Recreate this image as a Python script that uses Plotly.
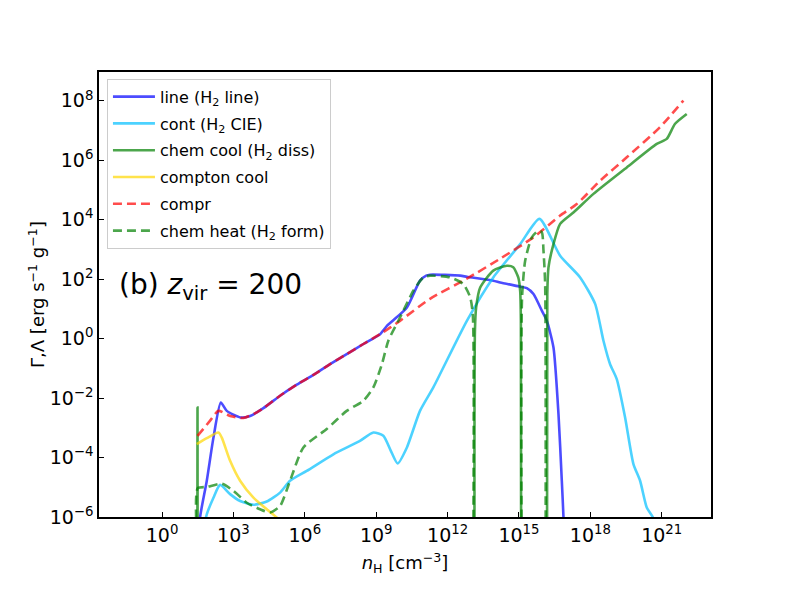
import numpy as np
import plotly.graph_objects as go

# values, as log10(n_H) and log10(rate); None = rate is not positive there
line_x = [1.59, 1.60, 1.88, 2.16, 2.47, 2.72, 3.29, 3.70, 4.26, 4.96, 5.66, 6.36, 7.06, 7.76, 8.46, 9.16, 9.45, 9.72,
          10.29, 10.84, 11.10, 11.26, 12.53, 12.81, 13.92, 14.21, 15.04, 15.33, 15.61, 15.96, 16.17, 16.45, 16.66,
          16.80, 16.87, 16.89]
line_y = [-6.5, -6.0, -4.78, -3.33, -2.15, -2.43, -2.65, -2.60, -2.34, -1.92, -1.55, -1.22, -0.86, -0.52, -0.18, 0.15,
          0.43, 0.62, 1.05, 1.95, 2.12, 2.15, 2.12, 2.08, 1.95, 1.89, 1.75, 1.70, 1.50, 0.94, 0.60, -0.30, -2.54,
          -4.78, -6.0, -6.6]

cont_x = [1.83, 1.85, 2.16, 2.44, 2.86, 3.28, 3.84, 4.40, 4.96, 5.38, 6.08, 7.20, 8.30, 8.88, 9.30, 9.60, 9.90, 10.29,
          10.84, 11.40, 12.81, 13.92, 15.05, 15.86, 16.73, 17.57, 18.20, 18.55, 18.83, 19.11, 19.46, 19.81, 20.09,
          20.37, 20.62, 20.70]
cont_y = [-6.6, -6.0, -5.35, -4.92, -5.23, -5.46, -5.59, -5.48, -5.18, -4.78, -4.45, -3.89, -3.45, -3.16, -3.27, -3.75,
          -4.20, -3.66, -2.43, -1.64, 0.60, 2.06, 3.18, 4.03, 2.79, 2.06, 1.17, -0.07, -0.86, -1.36, -2.65, -4.22,
          -4.78, -5.68, -6.0, -6.3]

cool_x = [1.485, 1.49, 1.495, None, 13.13, 13.15, 13.20, 13.37, 13.92, 14.49, 14.76, 14.97, 15.05, 15.08, 15.09, None,
          16.18, 16.19, 16.24, 16.45, 16.73, 17.30, 18.13, 19.53, 20.79, 21.21, 21.56, 22.05]
cool_y = [-7, -2.32, -7, None, -7, 0.3, 1.05, 1.72, 2.29, 2.45, 2.40, 2.06, 1.61, 0.6, -7, None,
          -7, 1.5, 2.4, 3.18, 3.86, 4.25, 4.87, 5.76, 6.55, 6.72, 7.23, 7.56]

compton_x = [1.46, 1.88, 2.37, 2.51, 2.86, 3.28, 3.84, 4.40, 4.82, 5.00]
compton_y = [-3.55, -3.35, -3.16, -3.33, -4.11, -4.78, -5.35, -5.74, -6.02, -6.30]

compr_x = [1.49, 2.02, 2.37, 2.86, 3.42, 3.98, 4.26, 4.96, 5.66, 6.36, 7.06, 7.76, 8.46, 9.16, 10.0, 11.26, 12.81,
           14.21, 15.61, 16.73, 17.43, 18.41, 19.53, 20.92, 21.91]
compr_y = [-3.27, -2.76, -2.43, -2.60, -2.67, -2.48, -2.34, -1.92, -1.55, -1.22, -0.86, -0.52, -0.18, 0.15, 0.60, 1.34,
           2.02, 2.69, 3.41, 4.14, 4.53, 5.31, 6.10, 7.11, 8.01]

heat_x = [1.48, 1.50, 1.88, 2.51, 3.00, 3.56, 4.12, 4.54, 4.96, 5.38, 5.94, 6.92, 7.76, 8.46, 8.88, 9.24, 9.51, 10.0,
          10.56, 10.98, 11.26, 12.10, 12.66, 12.95, 13.06, 13.08, None, 15.11, 15.13, 15.26, 15.54, 15.81, 15.96,
          16.03, 16.10, 16.12]
heat_y = [-7, -5.03, -4.99, -4.88, -5.12, -5.52, -5.74, -5.85, -5.63, -4.78, -3.66, -3.04, -2.43, -2.09, -1.64,
          -0.86, -0.07, 0.71, 1.61, 2.06, 2.12, 2.06, 1.84, 1.39, 0.8, -7, None, -7, 1.4, 2.62, 3.41, 3.63, 3.58,
          2.96, 1.84, -7]

x_ticks = [0, 3, 6, 9, 12, 15, 18, 21]
y_ticks = [-6, -4, -2, 0, 2, 4, 6, 8]


def unlog(vals):
    return [None if v is None else 10.0 ** v for v in vals]


series = [
    ("line (H<sub>2</sub> line)", line_x, line_y, "rgba(0,0,255,0.7)", "solid"),
    ("cont (H<sub>2</sub> CIE)", cont_x, cont_y, "rgba(0,191,255,0.7)", "solid"),
    ("chem cool (H<sub>2</sub> diss)", cool_x, cool_y, "rgba(0,128,0,0.7)", "solid"),
    ("compton cool", compton_x, compton_y, "rgba(255,215,0,0.7)", "solid"),
    ("compr", compr_x, compr_y, "rgba(255,0,0,0.7)", "9px,5px"),
    ("chem heat (H<sub>2</sub> form)", heat_x, heat_y, "rgba(0,128,0,0.7)", "9px,5px"),
]

fig = go.Figure()
for i, (name, xs, ys, col, dash) in enumerate(series):
    fig.add_trace(go.Scatter(
        x=unlog(xs), y=unlog(ys), name=name, mode="lines", connectgaps=False,
        line=dict(color=col, width=2.6, dash=dash, shape="spline", smoothing=0.6),
        legendgroup=str(i),
    ))

fig.add_annotation(
    text="(b) <i>z</i><sub>vir</sub> = 200", xref="paper", yref="paper",
    x=0.029, y=0.518, xanchor="left", yanchor="middle", showarrow=False,
    font=dict(size=28, color="black"),
)

axis_common = dict(
    type="log", showgrid=False, zeroline=False, showline=True, mirror=True,
    linecolor="black", linewidth=1.5, ticks="inside", ticklen=5, tickwidth=1.2,
    tickcolor="black", tickfont=dict(size=19, color="black"),
)
fig.update_xaxes(
    **axis_common, range=[-2.65, 23.07],
    tickvals=[10.0 ** t for t in x_ticks],
    ticktext=[f"10<sup>{t}</sup>" for t in x_ticks],
    title=dict(text="<i>n</i><sub>H</sub> [cm<sup>−3</sup>]", font=dict(size=18, color="black"), standoff=12),
)
fig.update_yaxes(
    **axis_common, range=[-6, 8.97],
    tickvals=[10.0 ** t for t in y_ticks],
    ticktext=[f"10<sup>{t}</sup>".replace("-", "−") for t in y_ticks],
    title=dict(text="Γ,Λ [erg s<sup>−1</sup> g<sup>−1</sup>]", font=dict(size=18, color="black"), standoff=0),
)

# the page adds an 8px body margin, so the figure is drawn 8px smaller and shifted
fig.update_layout(
    width=781, height=584,
    margin=dict(l=91, r=78, t=64, b=75),
    plot_bgcolor="white", paper_bgcolor="white",
    font=dict(family="DejaVu Sans", color="black"),
    legend=dict(
        x=0.013, y=0.985, xanchor="left", yanchor="top",
        bgcolor="rgba(255,255,255,0.8)", bordercolor="#cccccc", borderwidth=1,
        font=dict(size=16), traceorder="grouped", tracegroupgap=3, itemwidth=42,
    ),
)

fig.write_html("out.html")
